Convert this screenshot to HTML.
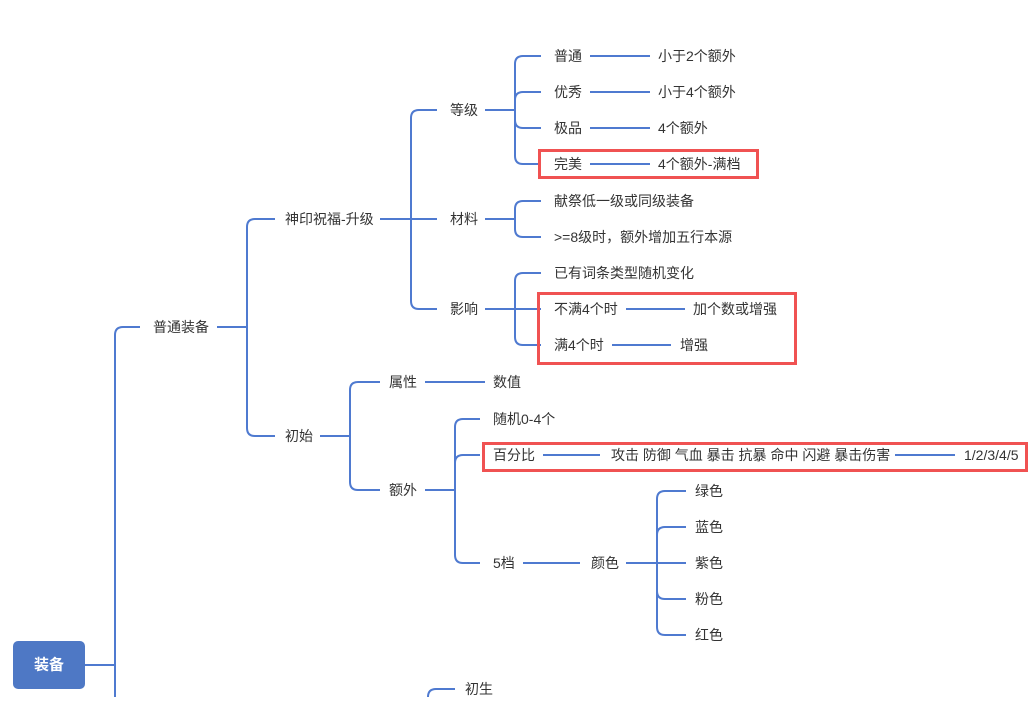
<!DOCTYPE html>
<html><head><meta charset="utf-8"><style>
html,body{margin:0;padding:0;background:#fff;}
svg text{font-family:"Liberation Sans","Noto Sans CJK SC",sans-serif;font-size:14px;fill:#333;dominant-baseline:central;}
</style></head><body>
<svg width="1029" height="697" viewBox="0 0 1029 697" xmlns="http://www.w3.org/2000/svg">
<g fill="none" stroke="#4f7ad0" stroke-width="2">
<path d="M85,665 H115"/>
<path d="M115,697 V335 Q115,327 123,327 H140"/>
<path d="M217,327 H247"/>
<path d="M247,327 V227 Q247,219 255,219 H275"/>
<path d="M247,327 V428 Q247,436 255,436 H275"/>
<path d="M380,219 H411"/>
<path d="M411,219 V118 Q411,110 419,110 H437"/>
<path d="M411,219 H437"/>
<path d="M411,219 V301 Q411,309 419,309 H437"/>
<path d="M485,110 H515"/>
<path d="M515,110 V64 Q515,56 523,56 H541"/>
<path d="M515,110 V100 Q515,92 523,92 H541"/>
<path d="M515,110 V120 Q515,128 523,128 H541"/>
<path d="M515,110 V156 Q515,164 523,164 H541"/>
<path d="M590,56 H650 M590,92 H650 M590,128 H650 M590,164 H650"/>
<path d="M485,219 H515"/>
<path d="M515,219 V209 Q515,201 523,201 H541"/>
<path d="M515,219 V229 Q515,237 523,237 H541"/>
<path d="M485,309 H515"/>
<path d="M515,309 V281 Q515,273 523,273 H541"/>
<path d="M515,309 H541"/>
<path d="M515,309 V337 Q515,345 523,345 H541"/>
<path d="M626,309 H685 M612,345 H671"/>
<path d="M320,436 H350"/>
<path d="M350,436 V390 Q350,382 358,382 H380"/>
<path d="M350,436 V482 Q350,490 358,490 H380"/>
<path d="M425,382 H485"/>
<path d="M425,490 H455"/>
<path d="M455,490 V427 Q455,419 463,419 H480"/>
<path d="M455,490 V463 Q455,455 463,455 H480"/>
<path d="M455,490 V555 Q455,563 463,563 H480"/>
<path d="M543,455 H600 M895,455 H955"/>
<path d="M523,563 H580 M626,563 H657"/>
<path d="M657,563 V499 Q657,491 665,491 H686"/>
<path d="M657,563 V535 Q657,527 665,527 H686"/>
<path d="M657,563 H686"/>
<path d="M657,563 V591 Q657,599 665,599 H686"/>
<path d="M657,563 V627 Q657,635 665,635 H686"/>
<path d="M428,697 Q428,689 436,689 H455"/>
</g>
<g fill="none" stroke="#f05252" stroke-width="3">
<rect x="539.5" y="150.5" width="218" height="27"/>
<rect x="538.5" y="293.5" width="257" height="70"/>
<rect x="483.5" y="443.5" width="543" height="27"/>
</g>
<rect x="13" y="641" width="72" height="48" rx="5" fill="#4e78c5"/>
<text x="49" y="665" text-anchor="middle" style="fill:#fff;font-size:15px;font-weight:bold">装备</text>
<text x="153" y="327">普通装备</text>
<text x="285" y="219">神印祝福-升级</text>
<text x="285" y="436">初始</text>
<text x="450" y="110">等级</text>
<text x="450" y="219">材料</text>
<text x="450" y="309">影响</text>
<text x="554" y="56">普通</text><text x="658" y="56">小于2个额外</text>
<text x="554" y="92">优秀</text><text x="658" y="92">小于4个额外</text>
<text x="554" y="128">极品</text><text x="658" y="128">4个额外</text>
<text x="554" y="164">完美</text><text x="658" y="164">4个额外-满档</text>
<text x="554" y="201">献祭低一级或同级装备</text>
<text x="554" y="237">&gt;=8级时，额外增加五行本源</text>
<text x="554" y="273">已有词条类型随机变化</text>
<text x="554" y="309">不满4个时</text><text x="693" y="309">加个数或增强</text>
<text x="554" y="345">满4个时</text><text x="680" y="345">增强</text>
<text x="389" y="382">属性</text><text x="493" y="382">数值</text>
<text x="389" y="490">额外</text>
<text x="493" y="419">随机0-4个</text>
<text x="493" y="455">百分比</text>
<text x="611" y="455">攻击 防御 气血 暴击 抗暴 命中 闪避 暴击伤害</text>
<text x="964" y="455">1/2/3/4/5</text>
<text x="493" y="563">5档</text>
<text x="591" y="563">颜色</text>
<text x="695" y="491">绿色</text>
<text x="695" y="527">蓝色</text>
<text x="695" y="563">紫色</text>
<text x="695" y="599">粉色</text>
<text x="695" y="635">红色</text>
<text x="465" y="689">初生</text>
</svg>
</body></html>
